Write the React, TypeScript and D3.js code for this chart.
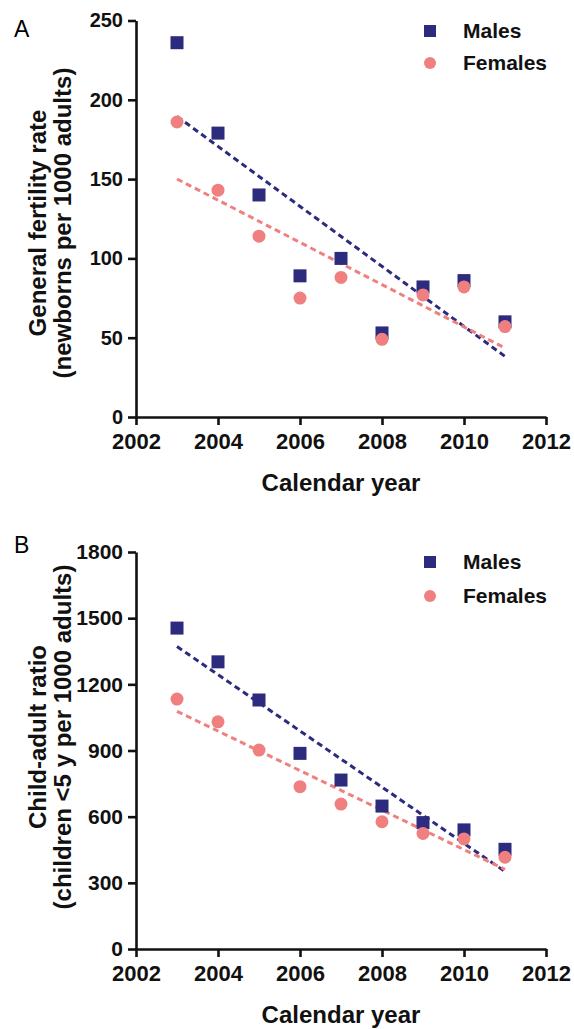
import * as d3 from "d3";
import {useEffect, useRef} from "react";

const years = [2003, 2004, 2005, 2006, 2007, 2008, 2009, 2010, 2011];

// panel A: general fertility rate
const fertMales = [236, 179, 140, 89, 100, 53, 82, 86, 60];
const fertFemales = [186, 143, 114, 75, 88, 49, 77, 82, 57];
const fertTicks = [0, 50, 100, 150, 200, 250];

// panel B: child-adult ratio
const ratioMales = [1455, 1302, 1129, 887, 766, 648, 573, 540, 452];
const ratioFemales = [1133, 1030, 902, 736, 657, 577, 524, 499, 416];
const ratioTicks = [0, 300, 600, 900, 1200, 1500, 1800];

const xTicks = [2002, 2004, 2006, 2008, 2010, 2012];
const seriesNames = ["Males", "Females"];

const NAVY = "#2c2b7e";
const PINK = "#f08080";
const FONT = "'Liberation Sans', Arial, sans-serif";

function fit(xs: number[], ys: number[]) {
    const mx = d3.mean(xs)!, my = d3.mean(ys)!;
    let num = 0, den = 0;
    xs.forEach((x, i) => {
        num += (x - mx) * (ys[i] - my);
        den += (x - mx) * (x - mx);
    });
    const slope = num / den;
    return (x: number) => my + slope * (x - mx);
}

function drawPanel(svg: any, cfg: any) {
    const g = svg.append("g");
    const x = d3.scaleLinear().domain([2002, 2012]).range([136, 546]);
    const y = d3.scaleLinear().domain([0, cfg.yMax]).range([cfg.y0, cfg.y1]);

    // panel letter
    g.append("text")
        .attr("x", 14).attr("y", cfg.letterY)
        .style("font", `23px ${FONT}`)
        .text(cfg.letter);

    // axes
    const yAxis = g.append("g")
        .attr("transform", "translate(136,0)")
        .call(d3.axisLeft(y).tickValues(cfg.ticks).tickFormat(d3.format("d"))
            .tickSize(8).tickSizeOuter(0).tickPadding(5));
    yAxis.selectAll("text").style("font", `bold ${cfg.yTickFont}px ${FONT}`).attr("fill", "#111");

    const xAxis = g.append("g")
        .attr("transform", `translate(0,${cfg.y0})`)
        .call(d3.axisBottom(x).tickValues(xTicks).tickFormat(d3.format("d"))
            .tickSize(8).tickSizeOuter(0).tickPadding(8));
    xAxis.selectAll("text").style("font", `bold 22px ${FONT}`).attr("fill", "#111");

    [yAxis, xAxis].forEach(a => {
        a.select(".domain").attr("stroke", "#111").attr("stroke-width", 2.6);
        a.selectAll(".tick line").attr("stroke", "#111").attr("stroke-width", 2.6);
    });

    // axis titles
    g.append("text")
        .attr("x", 341).attr("y", cfg.xTitleY)
        .attr("text-anchor", "middle")
        .style("font", `bold 24px ${FONT}`)
        .attr("fill", "#111")
        .text("Calendar year");

    const yt = g.append("text")
        .attr("transform", `translate(0,${cfg.yTitleY}) rotate(-90)`)
        .attr("text-anchor", "middle")
        .style("font", `bold 24px ${FONT}`)
        .attr("fill", "#111");
    yt.append("tspan").attr("x", 0).attr("y", 46).text(cfg.yTitle[0]);
    yt.append("tspan").attr("x", 0).attr("y", 71).text(cfg.yTitle[1]);

    // regression lines
    [[cfg.males, NAVY], [cfg.females, PINK]].forEach(([vals, col]: any) => {
        const f = fit(years, vals);
        const ends = [years[0], years[years.length - 1]];
        g.append("path")
            .attr("d", d3.line<number>().x(d => x(d)).y(d => y(f(d)))(ends))
            .attr("fill", "none")
            .attr("stroke", col)
            .attr("stroke-width", 3)
            .attr("stroke-dasharray", "6,4");
    });

    // points
    g.selectAll(".m").data(cfg.males).enter().append("rect")
        .attr("x", (d: number, i: number) => x(years[i]) - 6.5)
        .attr("y", (d: number) => y(d) - 6.5)
        .attr("width", 13).attr("height", 13)
        .attr("fill", NAVY);
    g.selectAll(".f").data(cfg.females).enter().append("circle")
        .attr("cx", (d: number, i: number) => x(years[i]))
        .attr("cy", (d: number) => y(d))
        .attr("r", 6.5)
        .attr("fill", PINK);

    // legend
    const lg = g.append("g");
    lg.append("rect").attr("x", 424).attr("y", cfg.legY[0] - 6).attr("width", 12).attr("height", 12).attr("fill", NAVY);
    lg.append("circle").attr("cx", 430).attr("cy", cfg.legY[1]).attr("r", 6).attr("fill", PINK);
    seriesNames.forEach((name, i) => {
        lg.append("text")
            .attr("x", 463).attr("y", cfg.legY[i] + 7)
            .style("font", `bold 21px ${FONT}`)
            .attr("fill", "#111")
            .text(name);
    });
}

export default function App() {
    const svgRef = useRef<SVGSVGElement>(null);

    useEffect(() => {
        const svg = d3.select(svgRef.current);
        svg.selectAll("*").remove();

        drawPanel(svg, {
            letter: "A", letterY: 37,
            yMax: 250, ticks: fertTicks, y0: 417, y1: 20.5, yTickFont: 20,
            males: fertMales, females: fertFemales,
            yTitle: ["General fertility rate", "(newborns per 1000 adults)"],
            yTitleY: 223, xTitleY: 491, legY: [31, 63],
        });
        drawPanel(svg, {
            letter: "B", letterY: 553,
            yMax: 1800, ticks: ratioTicks, y0: 949, y1: 552, yTickFont: 21,
            males: ratioMales, females: ratioFemales,
            yTitle: ["Child-adult ratio", "(children <5 y per 1000 adults)"],
            yTitleY: 737, xTitleY: 1023, legY: [562, 596],
        });
    }, []);

    return (
        <svg
            ref={svgRef}
            width={574}
            height={1029}
            style={{position: "absolute", left: 0, top: 0, background: "#fff"}}
        />
    );
}
